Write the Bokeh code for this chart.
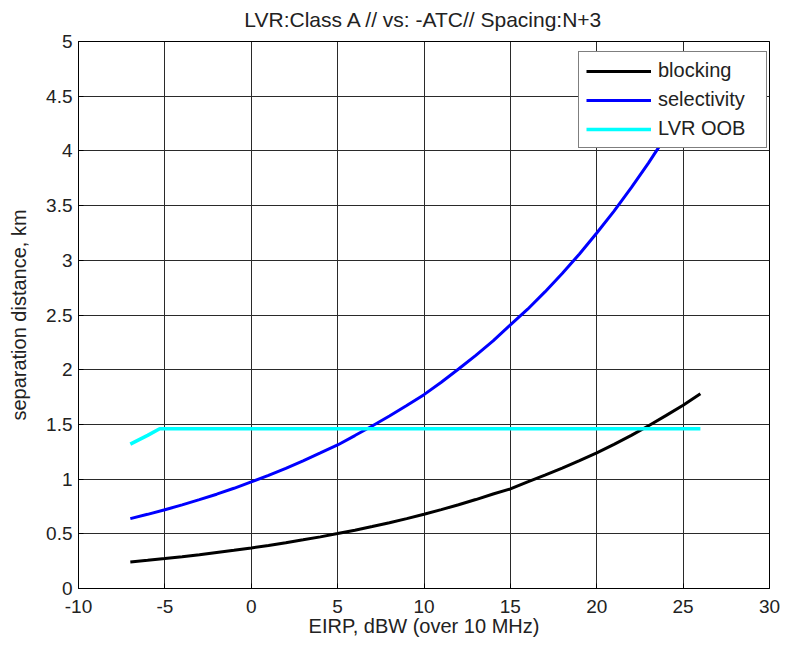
from bokeh.plotting import figure
from bokeh.models import FixedTicker, Range1d, Legend, LegendItem, LinearAxis
from bokeh.embed import file_html
from bokeh.resources import INLINE

# ---- data ----
eirp = [-7, -6, -5, -4, -3, -2, -1, 0, 1, 2, 3, 4, 5, 6, 7, 8, 9, 10, 11, 12,
        13, 14, 15, 16, 17, 18, 19, 20, 21, 22, 23, 24, 25, 26]
blocking = [0.243, 0.258, 0.274, 0.291, 0.309, 0.329, 0.349, 0.371, 0.394, 0.419,
            0.445, 0.472, 0.502, 0.533, 0.566, 0.601, 0.639, 0.679, 0.721, 0.766,
            0.813, 0.864, 0.910, 0.975, 1.036, 1.100, 1.169, 1.240, 1.318, 1.400,
            1.488, 1.580, 1.675, 1.780]
selectivity = [0.639, 0.678, 0.720, 0.764, 0.812, 0.862, 0.916, 0.974, 1.034, 1.099,
               1.167, 1.239, 1.312, 1.398, 1.485, 1.577, 1.672, 1.772, 1.885, 2.006,
               2.131, 2.263, 2.410, 2.553, 2.711, 2.880, 3.058, 3.250, 3.450, 3.664,
               3.891, 4.133, 4.389, 4.662]
oob_x = [-7, -6, -5.3, 0, 5, 10, 15, 20, 25, 26]
oob_y = [1.32, 1.40, 1.46, 1.46, 1.46, 1.46, 1.46, 1.46, 1.46, 1.46]

x_ticks = [-10, -5, 0, 5, 10, 15, 20, 25, 30]
x_tick_labels = ["-10", "-5", "0", "5", "10", "15", "20", "25", "30"]
y_ticks = [0, 0.5, 1, 1.5, 2, 2.5, 3, 3.5, 4, 4.5, 5]
y_tick_labels = ["0", "0.5", "1", "1.5", "2", "2.5", "3", "3.5", "4", "4.5", "5"]

title_text = "LVR:Class A // vs: -ATC// Spacing:N+3"
x_label = "EIRP, dBW (over 10 MHz)"
y_label = "separation distance, km"
names = ["blocking", "selectivity", "LVR OOB"]
colors = ["#000000", "#0000ff", "#00ffff"]

FONT = "Liberation Sans"
TXT = "#222222"

p = figure(width=787, height=648, output_backend="svg", toolbar_location=None,
           title=None,
           x_range=Range1d(-10, 30), y_range=Range1d(0, 5),
           min_border_left=78, min_border_right=18, min_border_top=41,
           min_border_bottom=60)
p.background_fill_color = "white"
p.border_fill_color = "white"
p.outline_line_color = "#000000"
p.outline_line_width = 1

bottom_axis = p.below[0]
left_axis = p.left[0]

# top axis without ticks, carrying the chart title
top_axis = LinearAxis(ticker=FixedTicker(ticks=[]))
top_axis.major_label_standoff = 0
top_axis.axis_label = title_text
top_axis.axis_label_standoff = 11
top_axis.axis_label_text_font_size = "21px"
p.add_layout(top_axis, "above")

for ax in (bottom_axis, left_axis, top_axis):
    ax.axis_line_color = "#000000"
    ax.major_tick_in = 5
    ax.major_tick_out = 0
    ax.minor_tick_line_color = None
    ax.major_tick_line_color = "#000000"
    ax.major_label_text_font = FONT
    ax.major_label_text_color = TXT
    ax.axis_label_text_font = FONT
    ax.axis_label_text_font_style = "normal"
    ax.axis_label_text_color = TXT

for ax in (bottom_axis, left_axis):
    ax.major_label_text_font_size = "19px"
    ax.axis_label_text_font_size = "20px"

bottom_axis.ticker = FixedTicker(ticks=x_ticks)
left_axis.ticker = FixedTicker(ticks=y_ticks)
bottom_axis.major_label_overrides = {t: l for t, l in zip(x_ticks, x_tick_labels)}
left_axis.major_label_overrides = {t: l for t, l in zip(y_ticks, y_tick_labels)}
bottom_axis.axis_label = x_label
left_axis.axis_label = y_label
bottom_axis.major_label_standoff = 11
bottom_axis.axis_label_standoff = -1
left_axis.major_label_standoff = 6
left_axis.axis_label_standoff = 13

p.xgrid.ticker = FixedTicker(ticks=x_ticks)
p.ygrid.ticker = FixedTicker(ticks=y_ticks)
for g in (p.xgrid[0], p.ygrid[0]):
    g.grid_line_color = "#2a2a2a"
    g.grid_line_width = 1
    g.grid_line_alpha = 1.0

r1 = p.line(eirp, blocking, line_color=colors[0], line_width=3)
r2 = p.line(eirp, selectivity, line_color=colors[1], line_width=3)
r3 = p.line(oob_x, oob_y, line_color=colors[2], line_width=3.5)

legend = Legend(items=[LegendItem(label=names[0], renderers=[r1]),
                       LegendItem(label=names[1], renderers=[r2]),
                       LegendItem(label=names[2], renderers=[r3])],
                location=(500, 440))
legend.label_text_font = FONT
legend.label_text_font_size = "20px"
legend.label_text_color = TXT
legend.glyph_width = 65
legend.glyph_height = 20
legend.label_standoff = 7
legend.label_width = 101
legend.padding = 7
legend.spacing = 6
legend.margin = 0
legend.border_line_color = "#000000"
legend.border_line_width = 1
legend.background_fill_color = "white"
legend.background_fill_alpha = 1.0
p.add_layout(legend, "center")

open("out.html", "w").write(file_html(p, INLINE))
